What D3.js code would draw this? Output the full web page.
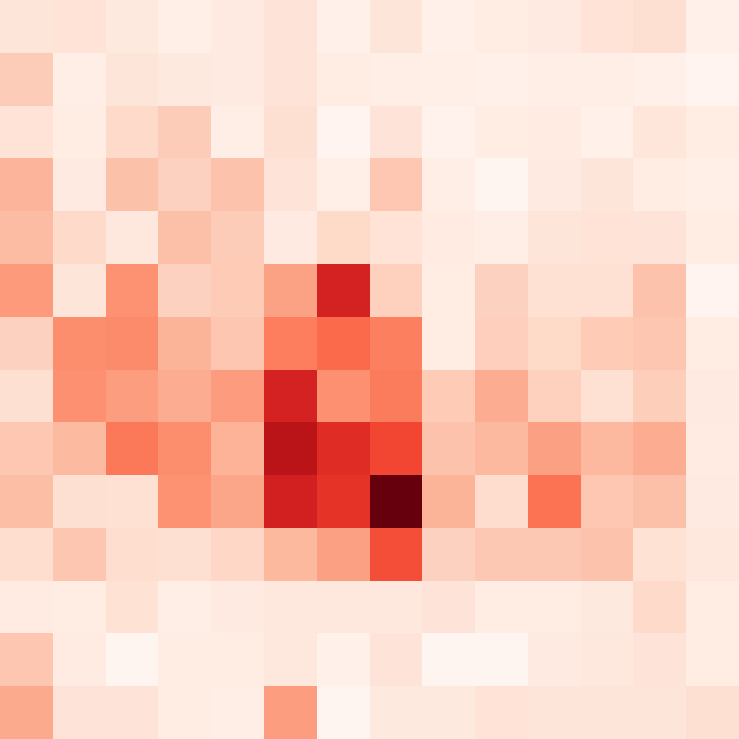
<!DOCTYPE html>
<html>
<head>
<meta charset="utf-8">
<script src="https://cdn.jsdelivr.net/npm/d3@7"></script>
<style>
html,body{margin:0;padding:0;background:#fff;overflow:hidden;}
svg{display:block;}
</style>
</head>
<body>
<svg id="chart" width="739" height="739"></svg>
<script>
const cols = ["0","1","2","3","4","5","6","7","8","9","10","11","12","13"];
const rowNames = ["0","1","2","3","4","5","6","7","8","9","10","11","12","13"];
const row0  = [0.101,0.113,0.077,0.042,0.071,0.107,0.030,0.101,0.030,0.054,0.071,0.113,0.130,0.030];
const row1  = [0.196,0.048,0.101,0.077,0.071,0.107,0.054,0.048,0.042,0.030,0.048,0.048,0.030,0.012];
const row2  = [0.113,0.060,0.149,0.196,0.048,0.131,0.012,0.107,0.024,0.054,0.065,0.030,0.095,0.060];
const row3  = [0.274,0.071,0.233,0.179,0.230,0.107,0.042,0.213,0.048,0.006,0.071,0.101,0.060,0.042];
const row4  = [0.250,0.149,0.083,0.240,0.196,0.071,0.152,0.113,0.065,0.048,0.101,0.113,0.107,0.054];
const row5  = [0.354,0.101,0.378,0.179,0.200,0.330,0.721,0.182,0.060,0.179,0.125,0.125,0.230,0.012];
const row6  = [0.179,0.390,0.400,0.277,0.216,0.440,0.500,0.435,0.060,0.186,0.152,0.200,0.216,0.060];
const row7  = [0.130,0.384,0.344,0.299,0.350,0.721,0.384,0.447,0.200,0.296,0.182,0.125,0.190,0.071];
const row8  = [0.213,0.256,0.456,0.390,0.280,0.806,0.682,0.601,0.230,0.260,0.335,0.260,0.296,0.065];
const row9  = [0.244,0.130,0.125,0.378,0.317,0.728,0.657,1.000,0.277,0.139,0.475,0.213,0.240,0.071];
const row10 = [0.137,0.216,0.137,0.130,0.159,0.262,0.335,0.577,0.179,0.210,0.210,0.230,0.120,0.083];
const row11 = [0.065,0.054,0.120,0.048,0.071,0.083,0.083,0.083,0.107,0.060,0.060,0.077,0.149,0.060];
const row12 = [0.216,0.065,0.006,0.054,0.054,0.083,0.036,0.107,0.006,0.006,0.071,0.083,0.107,0.060];
const row13 = [0.305,0.107,0.107,0.054,0.048,0.344,0.006,0.077,0.077,0.113,0.101,0.101,0.101,0.131];
const rows = [row0,row1,row2,row3,row4,row5,row6,row7,row8,row9,row10,row11,row12,row13];

const W = 739, H = 739;
const svg = d3.select("#chart");
const x = d3.scaleBand().domain(cols).range([0, W]).padding(0);
const y = d3.scaleBand().domain(rowNames).range([0, H]).padding(0);

const cells = [];
rows.forEach((r, i) => r.forEach((v, j) => cells.push({row: rowNames[i], col: cols[j], v})));
const ext = d3.extent(cells, d => d.v);
const reds = d3.schemeReds[9];
const color = d3.scaleLinear()
  .domain(reds.map((_, k) => ext[0] + (ext[1] - ext[0]) * k / (reds.length - 1)))
  .range(reds)
  .interpolate(d3.interpolateRgb);

svg.append("g").selectAll("rect").data(cells).join("rect")
  .attr("x", d => x(d.col))
  .attr("y", d => y(d.row))
  .attr("width", x.bandwidth() + 0.5)
  .attr("height", y.bandwidth() + 0.5)
  .attr("fill", d => color(d.v))
  .attr("shape-rendering", "crispEdges");
</script>
</body>
</html>
